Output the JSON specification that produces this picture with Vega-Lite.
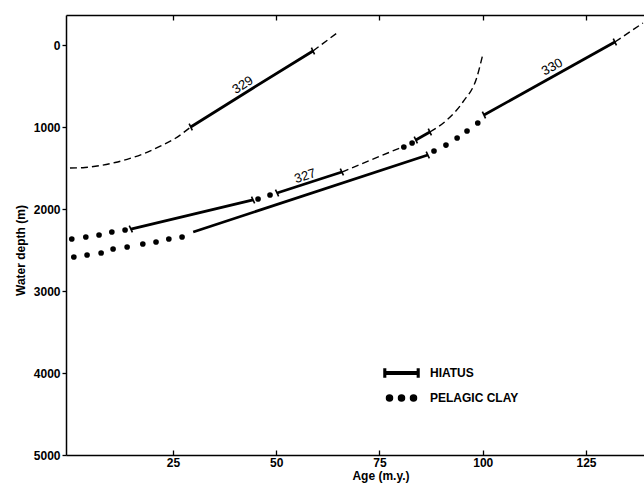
{
  "$schema": "https://vega.github.io/schema/vega-lite/v6.json",
  "width": 578,
  "height": 440,
  "autosize": {"type": "none"},
  "padding": {"left": 66, "top": 15, "right": 0, "bottom": 32},
  "background": "white",
  "config": {
    "view": {"stroke": null},
    "font": "Liberation Sans",
    "axis": {
      "grid": false,
      "domainColor": "black",
      "domainWidth": 1.5,
      "tickColor": "black",
      "tickWidth": 1.3,
      "labelColor": "black",
      "labelFont": "Liberation Sans",
      "labelFontSize": 12,
      "labelFontWeight": "bold",
      "titleFont": "Liberation Sans",
      "titleFontSize": 12,
      "titleFontWeight": "bold",
      "titleColor": "black"
    }
  },
  "datasets": {
    "dashed": [
      {"seg": "d329a", "age": 0.06, "depth": 1500},
      {"seg": "d329a", "age": 3.7, "depth": 1493},
      {"seg": "d329a", "age": 7.3, "depth": 1471},
      {"seg": "d329a", "age": 11.0, "depth": 1433},
      {"seg": "d329a", "age": 14.6, "depth": 1383},
      {"seg": "d329a", "age": 18.2, "depth": 1320},
      {"seg": "d329a", "age": 21.8, "depth": 1237},
      {"seg": "d329a", "age": 25.5, "depth": 1140},
      {"seg": "d329a", "age": 29.3, "depth": 1000},
      {"seg": "d329b", "age": 58.9, "depth": 73},
      {"seg": "d329b", "age": 64.7, "depth": -146},
      {"seg": "d327a", "age": 65.9, "depth": 1549},
      {"seg": "d327a", "age": 80.5, "depth": 1244},
      {"seg": "d327b", "age": 87.2, "depth": 1061},
      {"seg": "d327b", "age": 91.3, "depth": 915},
      {"seg": "d327b", "age": 95.2, "depth": 695},
      {"seg": "d327b", "age": 98.6, "depth": 390},
      {"seg": "d327b", "age": 100.1, "depth": 98},
      {"seg": "d330", "age": 132.0, "depth": -37},
      {"seg": "d330", "age": 138.8, "depth": -268}
    ],
    "solid": [
      {"seg": "s329", "age": 29.3, "depth": 1000},
      {"seg": "s329", "age": 44.4, "depth": 524},
      {"seg": "s329", "age": 58.9, "depth": 73},
      {"seg": "s327a", "age": 14.8, "depth": 2244},
      {"seg": "s327a", "age": 44.4, "depth": 1890},
      {"seg": "s327b", "age": 50.2, "depth": 1805},
      {"seg": "s327b", "age": 65.9, "depth": 1549},
      {"seg": "s327c", "age": 83.8, "depth": 1159},
      {"seg": "s327c", "age": 87.2, "depth": 1061},
      {"seg": "slow", "age": 29.9, "depth": 2280},
      {"seg": "slow", "age": 86.7, "depth": 1341},
      {"seg": "s330", "age": 100.3, "depth": 854},
      {"seg": "s330", "age": 132.0, "depth": -37}
    ],
    "ends": [
      {"kind": "HIATUS", "age": 29.3, "depth": 1000},
      {"kind": "HIATUS", "age": 58.9, "depth": 73},
      {"kind": "HIATUS", "age": 14.8, "depth": 2244},
      {"kind": "HIATUS", "age": 44.4, "depth": 1890},
      {"kind": "HIATUS", "age": 50.2, "depth": 1805},
      {"kind": "HIATUS", "age": 65.9, "depth": 1549},
      {"kind": "HIATUS", "age": 83.8, "depth": 1159},
      {"kind": "HIATUS", "age": 87.2, "depth": 1061},
      {"kind": "HIATUS", "age": 86.7, "depth": 1341},
      {"kind": "HIATUS", "age": 100.3, "depth": 854},
      {"kind": "HIATUS", "age": 132.0, "depth": -37}
    ],
    "clay": [
      {"kind": "PELAGIC CLAY", "age": 0.5, "depth": 2366},
      {"kind": "PELAGIC CLAY", "age": 3.9, "depth": 2341},
      {"kind": "PELAGIC CLAY", "age": 7.1, "depth": 2317},
      {"kind": "PELAGIC CLAY", "age": 10.2, "depth": 2280},
      {"kind": "PELAGIC CLAY", "age": 13.4, "depth": 2256},
      {"kind": "PELAGIC CLAY", "age": 45.6, "depth": 1878},
      {"kind": "PELAGIC CLAY", "age": 48.5, "depth": 1829},
      {"kind": "PELAGIC CLAY", "age": 80.9, "depth": 1244},
      {"kind": "PELAGIC CLAY", "age": 82.9, "depth": 1195},
      {"kind": "PELAGIC CLAY", "age": 1.0, "depth": 2585},
      {"kind": "PELAGIC CLAY", "age": 4.2, "depth": 2561},
      {"kind": "PELAGIC CLAY", "age": 7.6, "depth": 2537},
      {"kind": "PELAGIC CLAY", "age": 10.5, "depth": 2488},
      {"kind": "PELAGIC CLAY", "age": 13.9, "depth": 2463},
      {"kind": "PELAGIC CLAY", "age": 17.7, "depth": 2427},
      {"kind": "PELAGIC CLAY", "age": 20.9, "depth": 2402},
      {"kind": "PELAGIC CLAY", "age": 24.0, "depth": 2366},
      {"kind": "PELAGIC CLAY", "age": 27.2, "depth": 2341},
      {"kind": "PELAGIC CLAY", "age": 88.2, "depth": 1293},
      {"kind": "PELAGIC CLAY", "age": 91.1, "depth": 1220},
      {"kind": "PELAGIC CLAY", "age": 93.8, "depth": 1134},
      {"kind": "PELAGIC CLAY", "age": 96.2, "depth": 1049},
      {"kind": "PELAGIC CLAY", "age": 98.8, "depth": 951}
    ],
    "labels": [
      {"site": "329", "age": 41.9, "depth": 488},
      {"site": "327", "age": 57.0, "depth": 1598},
      {"site": "330", "age": 116.8, "depth": 268}
    ]
  },
  "encoding": {
    "x": {"field": "age", "type": "quantitative", "scale": {"domain": [-0.9, 139.05], "nice": false, "zero": false}, "axis": null},
    "y": {
      "field": "depth", "type": "quantitative",
      "scale": {"domain": [-366, 5000], "nice": false, "zero": false, "reverse": true},
      "axis": {
        "title": "Water depth (m)",
        "values": [0, 1000, 2000, 3000, 4000, 5000],
        "format": "d",
        "tickSize": 4,
        "labelPadding": 2,
        "titleX": -46,
        "titleY": 235,
        "titleBaseline": "middle",
        "titleAlign": "center"
      }
    }
  },
  "layer": [
    {
      "data": {"name": "dashed"},
      "mark": {"type": "line", "color": "black", "strokeWidth": 1.4, "strokeDash": [7, 4], "interpolate": "monotone"},
      "encoding": {
        "x": {"field": "age", "type": "quantitative", "scale": {"domain": [-0.9, 139.05], "nice": false, "zero": false},
          "axis": {"orient": "top", "title": null, "labels": false, "values": [25, 50, 75, 100, 125], "tickSize": -5}},
        "detail": {"field": "seg"}
      }
    },
    {
      "data": {"name": "solid"},
      "mark": {"type": "line", "color": "black", "strokeWidth": 2.8},
      "encoding": {
        "x": {"field": "age", "type": "quantitative", "scale": {"domain": [-0.9, 139.05], "nice": false, "zero": false},
          "axis": {"orient": "bottom", "title": "Age (m.y.)", "values": [25, 50, 75, 100, 125], "tickSize": -5, "labelPadding": 7,
            "titleX": 314.5, "titleY": 24, "titleBaseline": "alphabetic", "titleAlign": "center"}},
        "detail": {"field": "seg"}
      }
    },
    {
      "data": {"name": "ends"},
      "mark": {"type": "point", "filled": false, "shape": "M0,-1L0,1", "strokeWidth": 1.6, "size": 56, "angle": -25, "opacity": 1},
      "encoding": {
        "color": {
          "field": "kind", "type": "nominal",
          "scale": {"domain": ["HIATUS", "PELAGIC CLAY"], "range": ["black", "black"]},
          "legend": {
            "orient": "none", "legendX": 329.5, "legendY": 352, "title": null, "padding": 0,
            "labelFont": "Liberation Sans", "labelFontSize": 12, "labelFontWeight": "bold", "labelColor": "black",
            "labelOffset": 22.5, "symbolSize": 100, "rowPadding": 12,
            "symbolType": {"expr": "datum.value === 'HIATUS' ? 'M-3.5,-0.8H-3.18V-0.26H3.18V-0.8H3.5V0.8H3.18V0.26H-3.18V0.8H-3.5Z' : 'M-3,0A0.6,0.6 0 1,0 -1.8,0A0.6,0.6 0 1,0 -3,0ZM-0.6,0A0.6,0.6 0 1,0 0.6,0A0.6,0.6 0 1,0 -0.6,0ZM1.8,0A0.6,0.6 0 1,0 3,0A0.6,0.6 0 1,0 1.8,0Z'"},
            "encode": {"symbols": {
              "fill": {"value": "black"}, "fillOpacity": {"value": 1}, "strokeWidth": {"value": 0}, "opacity": {"value": 1}
            }}
          }
        }
      }
    },
    {
      "data": {"name": "clay"},
      "mark": {"type": "point", "filled": true, "shape": "circle", "size": 32, "opacity": 1},
      "encoding": {
        "color": {
          "field": "kind", "type": "nominal",
          "scale": {"domain": ["HIATUS", "PELAGIC CLAY"], "range": ["black", "black"]},
          "legend": {
            "orient": "none", "legendX": 329.5, "legendY": 352, "title": null, "padding": 0,
            "labelFont": "Liberation Sans", "labelFontSize": 12, "labelFontWeight": "bold", "labelColor": "black",
            "labelOffset": 22.5, "symbolSize": 100, "rowPadding": 12,
            "symbolType": {"expr": "datum.value === 'HIATUS' ? 'M-3.5,-0.8H-3.18V-0.26H3.18V-0.8H3.5V0.8H3.18V0.26H-3.18V0.8H-3.5Z' : 'M-3,0A0.6,0.6 0 1,0 -1.8,0A0.6,0.6 0 1,0 -3,0ZM-0.6,0A0.6,0.6 0 1,0 0.6,0A0.6,0.6 0 1,0 -0.6,0ZM1.8,0A0.6,0.6 0 1,0 3,0A0.6,0.6 0 1,0 1.8,0Z'"},
            "encode": {"symbols": {
              "fill": {"value": "black"}, "fillOpacity": {"value": 1}, "strokeWidth": {"value": 0}, "opacity": {"value": 1}
            }}
          }
        }
      }
    },
    {
      "data": {"name": "labels"},
      "transform": [{"filter": "datum.site === '329'"}],
      "mark": {"type": "text", "angle": -33, "fontSize": 13, "font": "Liberation Sans", "color": "black", "align": "center", "baseline": "middle"},
      "encoding": {"text": {"field": "site"}}
    },
    {
      "data": {"name": "labels"},
      "transform": [{"filter": "datum.site === '327'"}],
      "mark": {"type": "text", "angle": -18, "fontSize": 13, "font": "Liberation Sans", "color": "black", "align": "center", "baseline": "middle"},
      "encoding": {"text": {"field": "site"}}
    },
    {
      "data": {"name": "labels"},
      "transform": [{"filter": "datum.site === '330'"}],
      "mark": {"type": "text", "angle": -29, "fontSize": 13, "font": "Liberation Sans", "color": "black", "align": "center", "baseline": "middle"},
      "encoding": {"text": {"field": "site"}}
    }
  ],
  "resolve": {"axis": {"x": "independent"}}
}
